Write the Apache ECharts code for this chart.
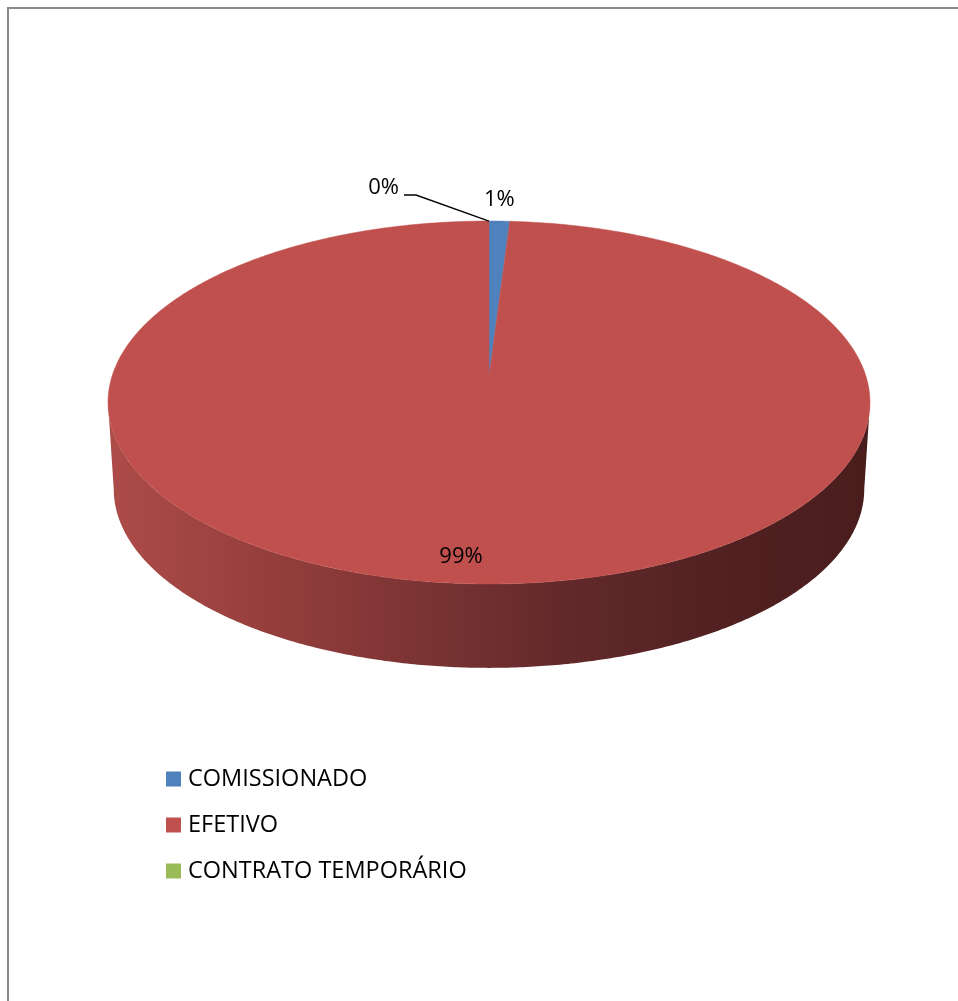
<!DOCTYPE html>
<html>
<head>
<meta charset="utf-8">
<script src="https://cdn.jsdelivr.net/npm/echarts@6/dist/echarts.min.js"></script>
<style>
  html, body { margin: 0; padding: 0; background: #ffffff; }
  #chart { width: 958px; height: 1001px; }
</style>
</head>
<body>
<div id="chart"></div>
<script>
// Categories and values of the pie
const categories = ['COMISSIONADO', 'EFETIVO', 'CONTRATO TEMPORÁRIO'];
const values = [10, 989, 0];
const colors = ['#4f81bd', '#c0504d', '#9bbb59'];

const total = values.reduce((a, b) => a + b, 0);

// Perspective view of the disc (tilted cylinder)
const CX = 489, CY = 377;      // projected centre of the top face
const A = 377.2, B = 177.9;    // horizontal / depth radii
const P = 0.1405;              // perspective foreshortening
const DEPTH = 87, K = 0.985;   // cylinder thickness, bottom face scale
const FONT = "'Open Sans', 'DejaVu Sans', sans-serif";

function pt(theta, r, bottom) {
  const u = r * Math.sin(theta), v = r * Math.cos(theta);
  const w = 1 + P * v;
  const s = bottom ? K : 1;
  return [CX + s * A * u / w, CY + (bottom ? DEPTH : 0) - s * B * v / w];
}

function arc(t1, t2, bottom) {
  const n = Math.max(4, Math.ceil(Math.abs(t2 - t1) / (Math.PI / 360)));
  const out = [];
  for (let i = 0; i <= n; i++) out.push(pt(t1 + (t2 - t1) * i / n, 1, bottom));
  return out;
}

// front part of the rim that faces the viewer
const FRONT_A = Math.PI / 2 + Math.asin(P);
const FRONT_B = 3 * Math.PI / 2 - Math.asin(P);

// rim shading, light on the left, dark on the right
const sideFill = new echarts.graphic.LinearGradient(108, 0, 870, 0, [
  { offset: 0, color: '#ad4c49' },
  { offset: 0.2, color: '#963f3d' },
  { offset: 0.42, color: '#7a3333' },
  { offset: 0.6, color: '#62292a' },
  { offset: 0.8, color: '#522122' },
  { offset: 1, color: '#4a1d1d' }
], true);

const labelPlacement = ['above', 'inside', 'leader'];

function makeRender(idx) {
  return function (params, api) {
    const value = api.value(0);
    let before = 0;
    for (let i = 0; i < idx; i++) before += values[i];
    const t1 = before / total * 2 * Math.PI;
    const t2 = (before + value) / total * 2 * Math.PI;
    const tm = (t1 + t2) / 2;
    const children = [];

    // rim
    const a = Math.max(t1, FRONT_A), b = Math.min(t2, FRONT_B);
    if (b > a) {
      const pts = arc(a, b, false).concat(arc(b, a, true));
      children.push({
        type: 'polygon', z2: 1,
        shape: { points: pts },
        style: { fill: idx === 1 ? sideFill : echarts.color.lift(colors[idx], -0.5) }
      });
    }

    // top face
    if (t2 > t1) {
      const top = [pt(0, 0, false)].concat(arc(t1, t2, false));
      children.push({
        type: 'polygon', z2: 10,
        shape: { points: top },
        style: { fill: colors[idx], stroke: colors[idx], lineWidth: 0.5 }
      });
    }

    // percentage label
    const text = Math.round(value / total * 100) + '%';
    const edge = pt(tm, 1, false);
    const labelStyle = { text: text, fontSize: 22, fontFamily: FONT, fill: '#000000' };
    const place = labelPlacement[idx];
    if (place === 'inside') {
      const p = pt(tm, 0.886, false);
      children.push({ type: 'text', z2: 20, style: Object.assign({ x: p[0] - 16, y: p[1], align: 'center', verticalAlign: 'middle' }, labelStyle) });
    } else if (place === 'above') {
      children.push({ type: 'text', z2: 20, style: Object.assign({ x: edge[0], y: edge[1] - 21, align: 'center', verticalAlign: 'middle' }, labelStyle) });
    } else {
      const bend = [edge[0] - 73, edge[1] - 26];
      const end = [edge[0] - 85, edge[1] - 26];
      children.push({
        type: 'polyline', z2: 20,
        shape: { points: [edge, bend, end] },
        style: { stroke: '#000000', lineWidth: 1.3, fill: null }
      });
      children.push({ type: 'text', z2: 20, style: Object.assign({ x: end[0] - 5, y: end[1] - 7, align: 'right', verticalAlign: 'middle' }, labelStyle) });
    }
    return { type: 'group', children: children };
  };
}

const chart = echarts.init(document.getElementById('chart'), null, { renderer: 'canvas' });

chart.setOption({
  animation: false,
  backgroundColor: '#ffffff',
  graphic: [{
    type: 'rect', silent: true, z: -10,
    shape: { x: 8, y: 8, width: 1000, height: 1100 },
    style: { fill: null, stroke: '#8a8a8a', lineWidth: 2 }
  }],
  legend: {
    orient: 'vertical',
    left: 166, top: 767,
    padding: 0,
    icon: 'rect',
    itemWidth: 15, itemHeight: 15,
    itemGap: 22,
    data: categories,
    textStyle: { fontSize: 23.5, fontFamily: FONT, color: '#000000', lineHeight: 24, padding: [0, 0, 0, 2] }
  },
  series: categories.map((name, i) => ({
    type: 'custom',
    name: name,
    coordinateSystem: 'none',
    itemStyle: { color: colors[i] },
    renderItem: makeRender(i),
    data: [[values[i]]]
  }))
});
</script>
</body>
</html>
